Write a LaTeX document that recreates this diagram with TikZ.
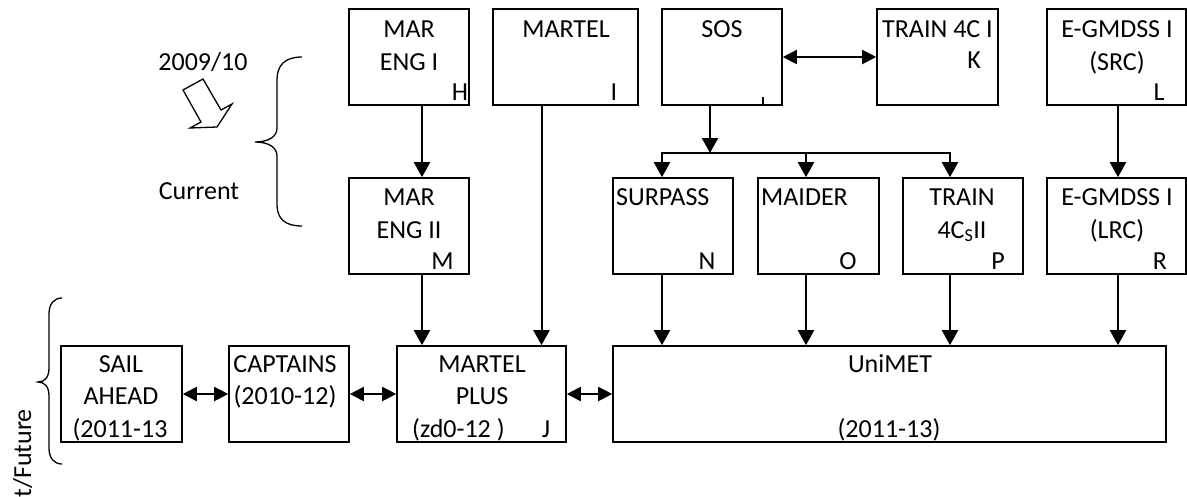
\documentclass[tikz,border=0pt]{standalone}
\usepackage{fontspec}
\setmainfont{Carlito}
\usetikzlibrary{arrows.meta}
\tikzset{
  box/.style = {draw, line width=1.6pt, inner sep=0, minimum width=#1, minimum height=96pt},
  lbl/.style = {inner sep=0, anchor=base},
  flow/.style = {line width=2pt, -{Triangle[length=15pt, width=16pt]}},
  both/.style = {line width=2pt, {Triangle[length=14pt, width=14pt]}-{Triangle[length=14pt, width=14pt]}}
}

\begin{document}
\begin{tikzpicture}[x=1pt, y=-1pt, font=\fontsize{26}{33}\selectfont]

  \useasboundingbox (0,0) rectangle (1187,496);

  %% Project map

  % Boxes, top row
  \node[box=120] (meng1) at (409,57) {};
  \node[box=145] (martel) at (565.5,57) {};
  \node[box=120] (sos) at (722,57) {};
  \node[box=121] (train1) at (937.5,57) {};
  \node[box=139] (gmdss1) at (1116.5,57) {};

  % Boxes, middle row
  \node[box=120] (meng2) at (409,226) {};
  \node[box=120] (surpass) at (673,226) {};
  \node[box=121] (maider) at (818.5,226) {};
  \node[box=120] (train2) at (963,226) {};
  \node[box=139] (gmdss2) at (1116.5,226) {};

  % Boxes, bottom row
  \node[box=121] (sail) at (121.5,394) {};
  \node[box=120] (captains) at (289,394) {};
  \node[box=169] (mplus) at (481.5,394) {};
  \node[box=553] (unimet) at (889.5,394) {};

  % Texts, top row
  \node[lbl] (meng1a) at (409,37) {MAR};
  \node[lbl] (meng1b) at (409,70) {ENG I};
  \node[lbl] (meng1c) at (460,100) {H};
  \node[lbl] (martela) at (566,37) {MARTEL};
  \node[lbl] (martelb) at (614,100) {I};
  \node[lbl] (sosa) at (722,37) {SOS};
  \draw[line width=1.5pt] (763,97) -- (763,105);
  \node[lbl, anchor=base west] (train1a) at (882,37) {TRAIN 4C I};
  \node[lbl] (train1b) at (974,68) {K};
  \node[lbl] (gmdss1a) at (1117,37) {E-GMDSS I};
  \node[lbl] (gmdss1b) at (1117,70) {(SRC)};
  \node[lbl] (gmdss1c) at (1159,100) {L};

  % Texts, middle row
  \node[lbl] (meng2a) at (409,205) {MAR};
  \node[lbl] (meng2b) at (409,238) {ENG II};
  \node[lbl] (meng2c) at (442.5,269) {M};
  \node[lbl, anchor=base west] (surpassa) at (616,205) {SURPASS};
  \node[lbl] (surpassb) at (707,269) {N};
  \node[lbl, anchor=base west] (maidera) at (761,205) {MAIDER};
  \node[lbl] (maiderb) at (848,269) {O};
  \node[lbl] (train2a) at (962,205) {TRAIN};
  \node[lbl] (train2b) at (962,238) {4C\textsubscript{S}II};
  \node[lbl] (train2c) at (998,269) {P};
  \node[lbl] (gmdss2a) at (1117,205) {E-GMDSS I};
  \node[lbl] (gmdss2b) at (1117,238) {(LRC)};
  \node[lbl] (gmdss2c) at (1160,269) {R};

  % Texts, bottom row
  \node[lbl] (saila) at (121,372) {SAIL};
  \node[lbl] (sailb) at (121,404) {AHEAD};
  \node[lbl] (sailc) at (120,437) {(2011-13};
  \node[lbl] (captainsa) at (285,372) {CAPTAINS};
  \node[lbl] (captainsb) at (285,404) {(2010-12)};
  \node[lbl] (mplusa) at (482,372) {MARTEL};
  \node[lbl] (mplusb) at (482,404) {PLUS};
  \node[lbl, anchor=base west] (mplusc) at (412,437) {(zd0-12 )};
  \node[lbl] (mplusd) at (546,437) {J};
  \node[lbl] (unimeta) at (890,372) {UniMET};
  \node[lbl] (unimetb) at (889,437) {(2011-13)};

  % Periods
  \node[lbl] (year) at (203,70) {2009/10};
  \node[lbl] (current) at (199,199) {Current};
  \node[lbl, rotate=90, anchor=base east] (future) at (31,409) {Current/Future};
  \draw[line width=1.3pt] (183,90) -- (203,79) -- (221,110) -- (232,104) -- (217,127)
    -- (190,128) -- (201,122) -- cycle;

  % Braces
  \draw[line width=1.3pt] (302,57) .. controls (285,57) and (277,65) .. (277,80) -- (277,128)
    .. controls (277,137) and (268,142) .. (255,142)
    .. controls (268,142) and (277,147) .. (277,156) -- (277,204)
    .. controls (277,219) and (285,226) .. (302,226);
  \draw[line width=1.3pt] (62,298) .. controls (54,298) and (49,304) .. (49,314) -- (49,368)
    .. controls (49,377) and (45,382) .. (38,382)
    .. controls (45,382) and (49,387) .. (49,396) -- (49,448)
    .. controls (49,458) and (54,464) .. (62,464);

  % Arrows, top to middle
  \draw[flow] ([xshift=13pt]meng1.south) -- ([xshift=13pt]meng2.north);
  \draw[both] (sos.east) -- (train1.west);
  \coordinate (split) at (710,153);
  \draw[flow] ([xshift=-12pt]sos.south) -- (split);
  \draw[flow] (split) -| ([xshift=-11pt]surpass.north);
  \draw[flow] (split) -| ([xshift=-13pt]train2.north);
  \draw[flow] ([xshift=-12.5pt]maider.north |- split) -- ([xshift=-12.5pt]maider.north);
  \draw[flow] ([xshift=1.5pt]gmdss1.south) -- ([xshift=1.5pt]gmdss2.north);

  % Arrows, into bottom row
  \draw[flow] ([xshift=13pt]meng2.south) -- ([xshift=-59.5pt]mplus.north);
  \draw[flow] ([xshift=-24pt]martel.south) -- ([xshift=60pt]mplus.north);
  \draw[flow] ([xshift=-11pt]surpass.south) -- ([xshift=-11pt]surpass.south |- unimet.north);
  \draw[flow] ([xshift=-12.5pt]maider.south) -- ([xshift=-12.5pt]maider.south |- unimet.north);
  \draw[flow] ([xshift=-13pt]train2.south) -- ([xshift=-13pt]train2.south |- unimet.north);
  \draw[flow] ([xshift=1.5pt]gmdss2.south) -- ([xshift=1.5pt]gmdss2.south |- unimet.north);

  % Links, bottom row
  \draw[both] (sail.east) -- (captains.west);
  \draw[both] (captains.east) -- (mplus.west);
  \draw[both] (mplus.east) -- (unimet.west);

\end{tikzpicture}
\end{document}
